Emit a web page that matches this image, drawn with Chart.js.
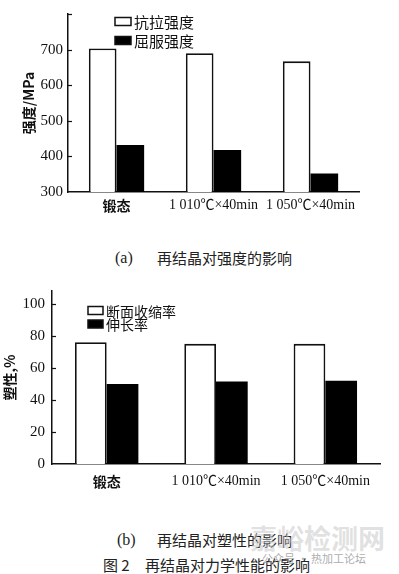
<!DOCTYPE html>
<html>
<head>
<meta charset="utf-8">
<script src="https://cdn.jsdelivr.net/npm/chart.js@4"></script>
<style>
body { margin: 0; background: #fff; width: 399px; height: 574px; position: relative; overflow: hidden; }
canvas { position: absolute; left: 0; }
.cap { position: absolute; font-family: "Noto Sans CJK SC", "Liberation Serif", serif; font-size: 15px; color: #222; white-space: nowrap; line-height: 18px; }
.ser { font-family: "Liberation Serif", serif; font-size: 16px; }
.wm { position: absolute; font-family: "Noto Sans CJK SC", sans-serif; white-space: nowrap; }
</style>
</head>
<body>
<canvas id="strength" width="399" height="230" style="top:0"></canvas>
<div class="cap ser" style="left:115px;top:249px">(a)</div>
<div class="cap" style="left:157px;top:249px">再结晶对强度的影响</div>
<canvas id="plastic" width="399" height="225" style="top:275px"></canvas>
<div class="cap ser" style="left:117px;top:531px">(b)</div>
<div class="cap" style="left:157px;top:531px">再结晶对塑性的影响</div>
<div class="cap" style="left:103px;top:556px">图 2</div>
<div class="cap" style="left:145px;top:556px">再结晶对力学性能的影响</div>
<div class="wm" style="left:250px;top:518px;font-size:27px;font-weight:bold;color:rgba(200,200,200,0.55)">嘉峪检测网</div>
<div class="wm" style="left:262px;top:550px;font-size:11px;color:rgba(150,150,150,0.8)">公众号 · 热加工论坛</div>
<script>
// categories
var groups = ['锻态', '1 010℃×40min', '1 050℃×40min'];

// (a) strength, MPa
var tensile = [703, 690, 667];
var yieldStr = [432, 418, 352];

// (b) plasticity, %
var reduction = [76, 75, 75];
var elongation = [50, 51.5, 52];

var INK = '#111';
var SERIF = '"Liberation Serif", "Noto Sans CJK SC", serif';
var CJK = '"Noto Sans CJK SC", "Liberation Serif", sans-serif';

// short tick marks on the inside of the y axis
var innerTicks = {
    id: 'innerTicks',
    afterDraw: function (chart, args, opts) {
        var y = chart.scales.y, ctx = chart.ctx, left = chart.chartArea.left;
        ctx.save();
        ctx.strokeStyle = INK;
        ctx.lineWidth = 1.2;
        y.ticks.forEach(function (t) {
            if (t.value === y.min) return;
            var py = Math.round(y.getPixelForValue(t.value)) + 0.5;
            ctx.beginPath();
            ctx.moveTo(left, py);
            ctx.lineTo(left + opts.len, py);
            ctx.stroke();
        });
        ctx.restore();
    }
};

// legend: little boxes stacked inside the plot
var boxLegend = {
    id: 'boxLegend',
    afterDraw: function (chart, args, o) {
        var ctx = chart.ctx;
        ctx.save();
        ctx.font = o.font;
        ctx.textBaseline = 'middle';
        chart.data.datasets.forEach(function (ds, i) {
            var cy = o.y + i * o.gap;
            ctx.fillStyle = ds.backgroundColor;
            ctx.fillRect(o.x, cy - o.boxH / 2, o.boxW, o.boxH);
            ctx.strokeStyle = INK;
            ctx.lineWidth = 1.5;
            ctx.strokeRect(o.x, cy - o.boxH / 2, o.boxW, o.boxH);
            ctx.fillStyle = INK;
            ctx.fillText(ds.label, o.x + o.boxW + 3, cy + 1);
        });
        ctx.restore();
    }
};

function makeChart(id, cfg) {
    return new Chart(document.getElementById(id), {
        type: 'bar',
        data: {
            labels: groups,
            datasets: [
                { label: cfg.names[0], data: cfg.series[0], backgroundColor: '#fff', borderColor: INK, borderWidth: 1.8,
                  categoryPercentage: cfg.catPct, barPercentage: 1.0 },
                { label: cfg.names[1], data: cfg.series[1], backgroundColor: '#000', borderColor: '#000', borderWidth: 0,
                  categoryPercentage: cfg.catPct, barPercentage: 1.0 }
            ]
        },
        options: {
            responsive: false,
            animation: false,
            devicePixelRatio: 1,
            layout: { padding: { top: cfg.padTop, right: cfg.padRight, left: 0, bottom: 0 } },
            plugins: {
                legend: { display: false },
                tooltip: { enabled: false },
                innerTicks: { len: 4 },
                boxLegend: cfg.legend
            },
            scales: {
                x: {
                    grid: { display: false, drawTicks: false },
                    border: { display: true, color: INK, width: 1.5 },
                    ticks: {
                        color: INK, autoSkip: false, maxRotation: 0, padding: cfg.xPad,
                        font: function (c) {
                            return c.index === 0 ? { family: CJK, size: 14, weight: 'bold' } : { family: SERIF, size: 14 };
                        }
                    },
                    afterFit: function (s) { s.height = cfg.xHeight; }
                },
                y: {
                    min: cfg.min, max: cfg.max,
                    grid: { display: false, drawTicks: false },
                    border: { display: true, color: INK, width: 1.5 },
                    ticks: {
                        stepSize: cfg.minor, includeBounds: false, color: INK, padding: cfg.yPad,
                        font: { family: SERIF, size: 15 },
                        callback: function (v) { return (v % cfg.major === 0 && v <= cfg.lastLabel) ? v : ''; }
                    },
                    title: {
                        display: true, text: cfg.yTitle, color: INK,
                        font: { family: CJK, size: 14, weight: 'bold' },
                        padding: { top: cfg.titlePad, bottom: 0 }
                    },
                    afterFit: function (s) { s.width = cfg.yWidth; }
                }
            }
        },
        plugins: [innerTicks, boxLegend]
    });
}

makeChart('strength', {
    names: ['抗拉强度', '屈服强度'],
    series: [tensile, yieldStr],
    catPct: 0.57,
    min: 300, max: 800, minor: 50, major: 100, lastLabel: 700,
    yTitle: '强度/MPa',
    padTop: 14, padRight: 40, xHeight: 38, yWidth: 68, xPad: 5, yPad: 5, titlePad: 20,
    legend: { x: 115, y: 21.5, gap: 19, boxW: 16, boxH: 8, font: '15px ' + CJK }
});

makeChart('plastic', {
    names: ['断面收缩率', '伸长率'],
    series: [reduction, elongation],
    catPct: 0.58,
    min: 0, max: 108, minor: 10, major: 20, lastLabel: 100,
    yTitle: '塑性,%',
    padTop: 10, padRight: 19, xHeight: 36, yWidth: 52, xPad: 9, yPad: 7, titlePad: 1,
    legend: { x: 88, y: 35.5, gap: 13.5, boxW: 15, boxH: 8, font: '14px ' + CJK }
});
</script>
</body>
</html>
